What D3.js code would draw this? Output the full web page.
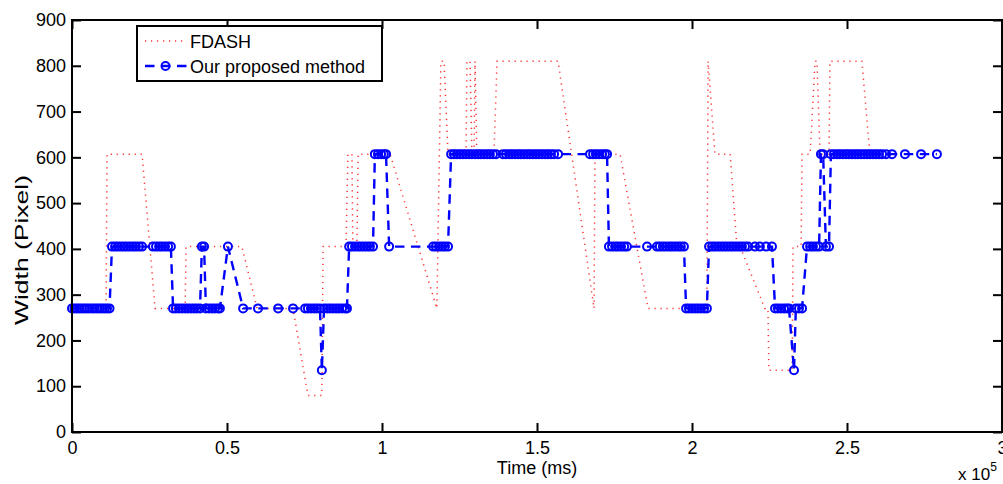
<!DOCTYPE html>
<html>
<head>
<meta charset="utf-8">
<script src="https://cdn.jsdelivr.net/npm/d3@7/dist/d3.min.js"></script>
<style>
  body { margin: 0; background: #fff; }
  svg { display: block; }
  text { font-family: "Liberation Sans", Arial, sans-serif; fill: #000; }
</style>
</head>
<body>
<svg id="chart" width="1003" height="484"></svg>
<script>
// FDASH width over time (ms)
const fdashTime = [0, 11000, 11300, 22600, 26800, 36500, 36800, 54800, 59700, 71300,
  76100, 80600, 81000, 88400, 89000, 90300, 90600, 91900, 92300, 102600,
  117700, 119000, 120000, 121300, 127100, 127400, 128400, 129000, 129700, 130000,
  130600, 136100, 137100, 156800, 168400, 168700, 176800, 185800, 204800, 205200,
  207400, 212300, 214500, 215500, 223500, 224500, 224800, 230900, 232300, 232600,
  235200, 235500, 238100, 239700, 240300, 241300, 244200, 244500, 254800, 257400];
const fdashWidth = [270, 270, 607, 607, 270, 270, 405, 405, 270, 270,
  80, 80, 405, 405, 607, 607, 405, 405, 607, 607,
  270, 810, 810, 607, 607, 810, 810, 607, 607, 810,
  607, 607, 810, 810, 270, 607, 607, 270, 270, 810,
  607, 607, 405, 405, 270, 270, 135, 135, 135, 405,
  405, 607, 607, 810, 810, 607, 607, 810, 810, 607];

// our proposed method, one entry per segment request
const oursTime = [0, 800, 1600, 2400, 3200, 4000, 4800, 5600, 6500, 7300, 8100, 8900, 9700, 10500, 11300, 12100,
  12900, 13900, 14800, 15800, 16800, 17700, 18700, 19700, 20600, 21600, 22600,
  26100, 27100, 28100, 29000, 30000, 31000, 31900,
  32600, 33500, 34500, 35500, 36500, 37400, 38400, 39400, 40300, 41300,
  41900, 42600,
  43200, 44200, 45200, 46100, 47100, 47700,
  50300,
  55200, 60000, 66500, 71300,
  75200, 76100, 77100, 78100, 79000, 80000,
  80600,
  81300, 82300, 83200, 84200, 85200, 86100, 87100, 88100, 88700,
  89400, 90300, 91300, 92300, 93200, 94200, 95200, 96100, 97100,
  97700, 98700, 99700, 100600, 101300,
  102300,
  116500, 117400, 118400, 119400, 120300, 121300,
  122300, 123200, 124200, 125200, 126100, 127100, 128100, 129000, 130000, 131000, 131900, 132900,
  133900, 134800, 135800, 136800,
  139000, 140000, 141000, 141900, 142900, 143900, 144800, 145800, 146800, 147700, 148700, 149700,
  150600, 151600, 152600, 153500, 154500, 155500, 156800,
  167100, 168100, 169000, 170000, 171000, 171900, 172600,
  173200, 174200, 175200, 176100, 177100, 178100, 179000,
  185500, 188700, 189600, 190600, 191600, 192600, 193500, 194500, 195500, 196400, 197400,
  198100, 199000, 200000, 201000, 201900, 202900, 203900, 204800,
  205500, 206500, 207400, 208400, 209400, 210300, 211300, 212300, 213200, 214200, 215200, 216100, 217100, 218100,
  220300, 221900, 223900, 225800,
  226800, 227700, 228700, 229700, 230600, 231300,
  232900,
  233500, 234500, 235500,
  237100, 238100, 239000, 240000, 241000,
  241600, 242300,
  243200, 244200,
  244800, 245800, 246800, 247700, 248700, 249700, 250600, 251600, 252600, 253500, 254500, 255500,
  256500, 257400, 258400, 259400, 260300, 261300, 262600, 264500, 268700, 273900, 279000];
const oursWidth = [270, 270, 270, 270, 270, 270, 270, 270, 270, 270, 270, 270, 270, 270, 270, 270,
  405, 405, 405, 405, 405, 405, 405, 405, 405, 405, 405,
  405, 405, 405, 405, 405, 405, 405,
  270, 270, 270, 270, 270, 270, 270, 270, 270, 270,
  405, 405,
  270, 270, 270, 270, 270, 270,
  405,
  270, 270, 270, 270,
  270, 270, 270, 270, 270, 270,
  135,
  270, 270, 270, 270, 270, 270, 270, 270, 270,
  405, 405, 405, 405, 405, 405, 405, 405, 405,
  607, 607, 607, 607, 607,
  405,
  405, 405, 405, 405, 405, 405,
  607, 607, 607, 607, 607, 607, 607, 607, 607, 607, 607, 607,
  607, 607, 607, 607,
  607, 607, 607, 607, 607, 607, 607, 607, 607, 607, 607, 607,
  607, 607, 607, 607, 607, 607, 607,
  607, 607, 607, 607, 607, 607, 607,
  405, 405, 405, 405, 405, 405, 405,
  405, 405, 405, 405, 405, 405, 405, 405, 405, 405, 405,
  270, 270, 270, 270, 270, 270, 270, 270,
  405, 405, 405, 405, 405, 405, 405, 405, 405, 405, 405, 405, 405, 405,
  405, 405, 405, 405,
  270, 270, 270, 270, 270, 270,
  135,
  270, 270, 270,
  405, 405, 405, 405, 405,
  607, 607,
  405, 405,
  607, 607, 607, 607, 607, 607, 607, 607, 607, 607, 607, 607,
  607, 607, 607, 607, 607, 607, 607, 607, 607, 607, 607];

const xTicks = [0, 50000, 100000, 150000, 200000, 250000, 300000];
const yTicks = [0, 100, 200, 300, 400, 500, 600, 700, 800, 900];
const seriesNames = ["FDASH", "Our proposed method"];

const plotLeft = 72, plotRight = 1002, plotTop = 20, plotBottom = 432;

const svg = d3.select("#chart");

const x = d3.scaleLinear().domain([0, 300000]).range([plotLeft, plotRight]);
const y = d3.scaleLinear().domain([0, 900]).range([plotBottom, plotTop]);

const fdash = fdashTime.map((t, i) => [t, fdashWidth[i]]);
const ours = oursTime.map((t, i) => [t, oursWidth[i]]);

const line = d3.line().x(d => x(d[0])).y(d => y(d[1]));

// series
svg.append("path")
  .datum(fdash)
  .attr("d", line)
  .attr("fill", "none")
  .attr("stroke", "#ff3030")
  .attr("stroke-width", 1.5)
  .attr("stroke-dasharray", "1.2,4.8");

svg.append("path")
  .datum(ours)
  .attr("d", line)
  .attr("fill", "none")
  .attr("stroke", "#0000ff")
  .attr("stroke-width", 2.4)
  .attr("stroke-dasharray", "9.5,6.5");

svg.append("g")
  .selectAll("circle")
  .data(ours)
  .enter()
  .append("circle")
  .attr("cx", d => x(d[0]))
  .attr("cy", d => y(d[1]))
  .attr("r", 4)
  .attr("fill", "none")
  .attr("stroke", "#0000ff")
  .attr("stroke-width", 2);

// axes, ticks point inwards on all four sides
function styleAxis(g) {
  g.select(".domain").remove();
  g.selectAll(".tick line").attr("stroke", "#000").attr("stroke-width", 2);
  g.selectAll(".tick text").attr("font-size", 18).attr("fill", "#000")
    .attr("font-family", "Liberation Sans, Arial, sans-serif");
}

svg.append("g")
  .attr("transform", `translate(0,${plotBottom})`)
  .call(d3.axisBottom(x).tickValues(xTicks).tickSize(-9).tickPadding(9)
    .tickFormat(d => d / 100000))
  .call(styleAxis);

svg.append("g")
  .attr("transform", `translate(0,${plotTop})`)
  .call(d3.axisTop(x).tickValues(xTicks).tickSize(-9).tickFormat(""))
  .call(styleAxis);

svg.append("g")
  .attr("transform", `translate(${plotLeft},0)`)
  .call(d3.axisLeft(y).tickValues(yTicks).tickSize(-9).tickPadding(6))
  .call(styleAxis);

svg.append("g")
  .attr("transform", `translate(${plotRight},0)`)
  .call(d3.axisRight(y).tickValues(yTicks).tickSize(-9).tickFormat(""))
  .call(styleAxis);

svg.append("rect")
  .attr("x", plotLeft)
  .attr("y", plotTop)
  .attr("width", plotRight - plotLeft)
  .attr("height", plotBottom - plotTop)
  .attr("fill", "none")
  .attr("stroke", "#000")
  .attr("stroke-width", 2);

// labels
svg.append("text")
  .text("Time (ms)")
  .attr("x", (plotLeft + plotRight) / 2)
  .attr("y", 474)
  .attr("text-anchor", "middle")
  .attr("font-size", 18);

svg.append("text")
  .text("Width (Pixel)")
  .attr("transform", "translate(28,250) rotate(-90)")
  .attr("text-anchor", "middle")
  .attr("font-size", 18)
  .attr("textLength", 150)
  .attr("lengthAdjust", "spacingAndGlyphs");

const mult = svg.append("text")
  .attr("x", 958)
  .attr("y", 480)
  .attr("font-size", 17);
mult.append("tspan").text("x 10");
mult.append("tspan").text("5").attr("font-size", 12).attr("dy", -9);

// legend
const legend = svg.append("g");
legend.append("rect")
  .attr("x", 137)
  .attr("y", 26)
  .attr("width", 245)
  .attr("height", 55)
  .attr("fill", "#fff")
  .attr("stroke", "#000")
  .attr("stroke-width", 2);

legend.append("line")
  .attr("x1", 145).attr("x2", 184)
  .attr("y1", 41).attr("y2", 41)
  .attr("stroke", "#ff3030")
  .attr("stroke-width", 1.5)
  .attr("stroke-dasharray", "1.2,4.8");

legend.append("line")
  .attr("x1", 145).attr("x2", 186.5)
  .attr("y1", 66).attr("y2", 66)
  .attr("stroke", "#0000ff")
  .attr("stroke-width", 2.4)
  .attr("stroke-dasharray", "9.5,6.5");

legend.append("circle")
  .attr("cx", 165.5).attr("cy", 66).attr("r", 4)
  .attr("fill", "none")
  .attr("stroke", "#0000ff")
  .attr("stroke-width", 2);

legend.selectAll("text.item")
  .data(seriesNames)
  .enter()
  .append("text")
  .attr("class", "item")
  .text(d => d)
  .attr("x", 190)
  .attr("y", (d, i) => 48 + i * 25)
  .attr("font-size", 18);
</script>
</body>
</html>
